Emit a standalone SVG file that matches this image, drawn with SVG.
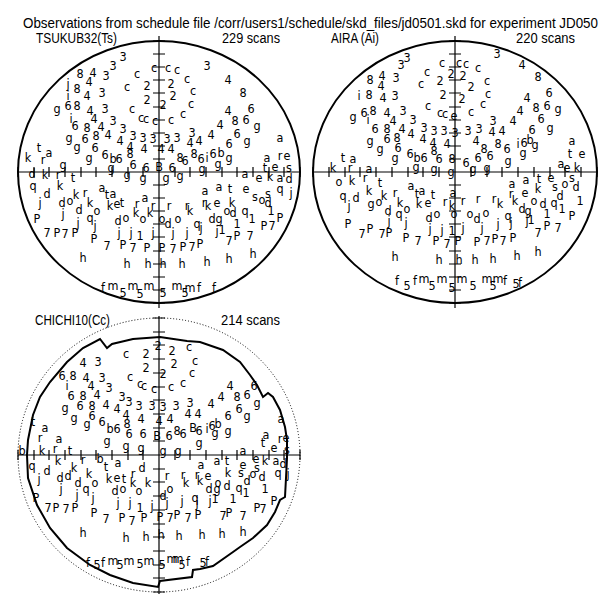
<svg xmlns="http://www.w3.org/2000/svg" width="601" height="601" viewBox="0 0 601 601">
<style>
.bg{fill:#fff}
.hz{fill:none;stroke:#000;stroke-width:2}
.dot{fill:none;stroke:#000;stroke-width:1;stroke-dasharray:1 2}
.ax{fill:none;stroke:#000;stroke-width:1.2}
.t{font-family:"Liberation Sans",Arial,sans-serif;font-size:14px;fill:#000}
.g text{font-family:"Liberation Sans Narrow","DejaVu Sans Condensed","Liberation Sans",sans-serif;font-size:12.5px;fill:#000;text-anchor:middle;dominant-baseline:central}
</style>
<rect class="bg" x="0" y="0" width="601" height="601"/>
<text class="t" x="23" y="28" textLength="575" lengthAdjust="spacingAndGlyphs">Observations from schedule file /corr/users1/schedule/skd_files/jd0501.skd for experiment JD050</text>

<g id="plot-tsukub32">
<text class="t" x="36" y="43" textLength="81" lengthAdjust="spacingAndGlyphs">TSUKUB32(Ts)</text>
<text class="t" x="222" y="43" textLength="58" lengthAdjust="spacingAndGlyphs">229 scans</text>
<ellipse class="hz" cx="159" cy="172" rx="141" ry="131"/>
<path class="ax" d="M159,36V308M18,172H300M153,159h12M153,146h12M153,133h12M153,120h12M153,107h12M153,93h12M153,80h12M153,67h12M153,54h12M153,41h12M153,185h12M153,198h12M153,211h12M153,224h12M153,237h12M153,251h12M153,264h12M153,277h12M153,290h12M153,303h12M143,167v10M128,167v10M112,167v10M96,167v10M81,167v10M65,167v10M49,167v10M34,167v10M18,167v10M175,167v10M190,167v10M206,167v10M222,167v10M237,167v10M253,167v10M269,167v10M284,167v10M300,167v10"/>
<g class="g">
<text x="123" y="56">3</text><text x="113" y="65">3</text><text x="106" y="75">3</text><text x="80" y="73">8</text><text x="93" y="72">4</text><text x="89" y="81">4</text><text x="68" y="83">j</text><text x="77" y="88">8</text><text x="87" y="95">4</text><text x="102" y="92">3</text><text x="68" y="95">i</text><text x="57" y="108">g</text><text x="68" y="105">6</text><text x="77" y="105">8</text><text x="90" y="110">4</text><text x="105" y="108">3</text><text x="94" y="118">4</text><text x="113" y="120">3</text><text x="71" y="118">i</text><text x="75" y="125">6</text><text x="87" y="127">8</text><text x="101" y="126">4</text><text x="123" y="128">3</text><text x="69" y="137">g</text><text x="85" y="138">6</text><text x="96" y="135">8</text><text x="108" y="134">4</text><text x="133" y="135">3</text><text x="143" y="137">3</text><text x="153" y="138">3</text><text x="167" y="138">3</text><text x="177" y="137">3</text><text x="192" y="132">3</text><text x="211" y="134">4</text><text x="120" y="140">4</text><text x="130" y="146">4</text><text x="144" y="148">4</text><text x="161" y="148">4</text><text x="171" y="148">4</text><text x="190" y="142">4</text><text x="199" y="140">4</text><text x="229" y="143">6</text><text x="247" y="140">g</text><text x="237" y="133">6</text><text x="77" y="146">g</text><text x="95" y="147">6</text><text x="89" y="157">g</text><text x="105" y="154">6</text><text x="113" y="158">b</text><text x="119" y="158">6</text><text x="130" y="153">8</text><text x="133" y="164">6</text><text x="180" y="157">8</text><text x="185" y="160">6</text><text x="194" y="153">8</text><text x="201" y="158">6</text><text x="207" y="157">i</text><text x="213" y="153">6</text><text x="221" y="152">b</text><text x="229" y="157">g</text><text x="267" y="157">a</text><text x="280" y="155">r</text><text x="287" y="155">e</text><text x="280" y="137">a</text><text x="28" y="157">k</text><text x="39" y="147">t</text><text x="49" y="152">a</text><text x="43" y="159">r</text><text x="63" y="164">g</text><text x="32" y="173">d</text><text x="45" y="174">k</text><text x="58" y="174">r</text><text x="73" y="177">t</text><text x="111" y="167">g</text><text x="127" y="174">g</text><text x="143" y="177">g</text><text x="146" y="167">6</text><text x="159" y="166">B</text><text x="172" y="167">6</text><text x="180" y="175">g</text><text x="166" y="177">g</text><text x="202" y="168">g</text><text x="218" y="163">g</text><text x="265" y="167">t</text><text x="275" y="166">e</text><text x="289" y="167">s</text><text x="245" y="173">a</text><text x="259" y="177">e</text><text x="270" y="176">k</text><text x="280" y="177">a</text><text x="289" y="178">d</text>
<text x="154" y="67">c</text><text x="168" y="67">c</text><text x="177" y="69">c</text><text x="207" y="65">3</text><text x="228" y="79">4</text><text x="243" y="92">8</text><text x="137" y="73">c</text><text x="127" y="86">c</text><text x="187" y="78">c</text><text x="147" y="85">2</text><text x="171" y="83">2</text><text x="147" y="99">2</text><text x="173" y="95">2</text><text x="193" y="90">c</text><text x="191" y="103">c</text><text x="163" y="104">2</text><text x="132" y="108">c</text><text x="183" y="113">c</text><text x="141" y="117">c</text><text x="146" y="118">c</text><text x="155" y="120">c</text><text x="171" y="119">c</text><text x="228" y="110">4</text><text x="251" y="108">6</text><text x="235" y="120">8</text><text x="246" y="119">6</text><text x="257" y="125">g</text><text x="220" y="124">4</text>
<text x="33" y="185">q</text><text x="47" y="193">d</text><text x="40" y="202">j</text><text x="60" y="185">k</text><text x="62" y="202">d</text><text x="70" y="200">o</text><text x="76" y="194">k</text><text x="85" y="192">r</text><text x="90" y="202">k</text><text x="102" y="187">a</text><text x="107" y="194">t</text><text x="113" y="193">a</text><text x="110" y="205">k</text><text x="117" y="203">e</text><text x="122" y="202">t</text><text x="145" y="197">a</text><text x="137" y="203">r</text><text x="136" y="212">k</text><text x="143" y="218">o</text><text x="150" y="212">k</text><text x="153" y="205">r</text><text x="169" y="205">r</text><text x="187" y="205">r</text><text x="190" y="210">k</text><text x="162" y="218">o</text><text x="168" y="223">d</text><text x="178" y="218">o</text><text x="79" y="209">d</text><text x="63" y="213">j</text><text x="97" y="210">o</text><text x="90" y="217">q</text><text x="78" y="222">j</text><text x="95" y="225">j</text><text x="118" y="220">d</text><text x="126" y="217">o</text>
<text x="37" y="218">P</text><text x="47" y="232">7</text><text x="57" y="232">P</text><text x="65" y="233">7</text><text x="75" y="232">P</text><text x="94" y="238">P</text><text x="107" y="245">7</text><text x="123" y="244">P</text><text x="133" y="247">7</text><text x="147" y="247">P</text><text x="162" y="247">P</text><text x="173" y="248">7</text><text x="183" y="246">P</text><text x="192" y="246">7</text><text x="200" y="243">P</text><text x="119" y="232">j</text><text x="131" y="232">j</text><text x="140" y="235">1</text><text x="153" y="232">j</text><text x="173" y="232">j</text><text x="187" y="232">j</text><text x="197" y="223">q</text><text x="201" y="227">j</text><text x="212" y="218">d</text><text x="219" y="218">g</text><text x="217" y="230">j</text><text x="222" y="229">1</text>
<text x="205" y="190">a</text><text x="219" y="186">a</text><text x="230" y="188">t</text><text x="246" y="188">e</text><text x="255" y="196">s</text><text x="262" y="199">o</text><text x="268" y="193">s</text><text x="268" y="202">d</text><text x="204" y="202">r</text><text x="208" y="205">k</text><text x="217" y="202">e</text><text x="232" y="202">k</text><text x="227" y="210">o</text><text x="233" y="212">d</text><text x="245" y="210">q</text><text x="252" y="218">1</text><text x="237" y="223">1</text><text x="271" y="210">1</text><text x="280" y="217">P</text><text x="264" y="225">P</text><text x="272" y="225">7</text><text x="280" y="188">q</text><text x="291" y="192">j</text><text x="229" y="240">7</text><text x="237" y="235">P</text><text x="250" y="235">7</text>
<text x="83" y="257">h</text><text x="127" y="263">h</text><text x="148" y="263">h</text><text x="163" y="263">h</text><text x="182" y="263">h</text><text x="207" y="261">h</text><text x="229" y="258">h</text><text x="253" y="253">h</text>
<text x="103" y="287">f</text><text x="113" y="285">m</text><text x="123" y="292">5</text><text x="133" y="285">m</text><text x="140" y="293">5</text><text x="149" y="285">m</text><text x="163" y="292">5</text><text x="177" y="285">m</text><text x="185" y="292">5</text><text x="190" y="287">m</text><text x="199" y="287">f</text><text x="214" y="287">f</text>
</g>
</g>

<g id="plot-aira">
<text class="t" x="331" y="43" textLength="48" lengthAdjust="spacingAndGlyphs">AIRA (Ai)</text>
<text class="t" x="516" y="43" textLength="59" lengthAdjust="spacingAndGlyphs">220 scans</text>
<ellipse class="hz" cx="455" cy="172" rx="142" ry="131"/>
<path class="ax" d="M455,36V308M313,172H597M449,159h12M449,146h12M449,133h12M449,120h12M449,107h12M449,93h12M449,80h12M449,67h12M449,54h12M449,41h12M449,185h12M449,198h12M449,211h12M449,224h12M449,237h12M449,251h12M449,264h12M449,277h12M449,290h12M449,303h12M439,167v10M423,167v10M408,167v10M392,167v10M376,167v10M360,167v10M345,167v10M329,167v10M313,167v10M471,167v10M487,167v10M502,167v10M518,167v10M534,167v10M550,167v10M565,167v10M581,167v10M597,167v10"/>
<g class="g">
<text x="407" y="57">3</text><text x="401" y="64">3</text><text x="396" y="77">3</text><text x="382" y="75">4</text><text x="370" y="79">8</text><text x="381" y="85">4</text><text x="427" y="71">c</text><text x="421" y="83">c</text><text x="442" y="62">c</text><text x="459" y="62">c</text><text x="466" y="63">c</text><text x="478" y="67">c</text><text x="487" y="80">c</text><text x="488" y="93">c</text><text x="483" y="103">c</text><text x="471" y="111">c</text><text x="428" y="105">c</text><text x="440" y="112">c</text><text x="445" y="113">c</text><text x="454" y="115">e</text><text x="440" y="80">2</text><text x="451" y="73">2</text><text x="463" y="75">2</text><text x="471" y="86">2</text><text x="443" y="94">2</text><text x="462" y="98">2</text>
<text x="497" y="53">3</text><text x="522" y="64">4</text><text x="538" y="76">8</text><text x="549" y="92">6</text><text x="527" y="97">4</text><text x="536" y="107">8</text><text x="547" y="105">6</text><text x="558" y="108">g</text><text x="520" y="110">4</text><text x="541" y="118">6</text><text x="550" y="127">g</text><text x="513" y="120">4</text><text x="493" y="120">3</text><text x="532" y="129">6</text><text x="492" y="131">4</text><text x="502" y="130">4</text><text x="518" y="143">i</text><text x="524" y="142">6</text><text x="530" y="139">b</text><text x="535" y="144">g</text><text x="523" y="152">g</text><text x="507" y="148">6</text><text x="498" y="143">8</text><text x="484" y="148">8</text><text x="476" y="140">4</text><text x="490" y="155">6</text><text x="508" y="160">g</text>
<text x="468" y="130">3</text><text x="479" y="128">3</text><text x="455" y="132">3</text><text x="444" y="130">3</text><text x="434" y="130">3</text><text x="424" y="127">3</text><text x="447" y="143">4</text><text x="433" y="142">4</text><text x="423" y="138">4</text><text x="411" y="133">4</text><text x="402" y="128">4</text><text x="413" y="119">3</text><text x="403" y="110">3</text><text x="393" y="120">4</text><text x="387" y="112">4</text><text x="395" y="95">3</text><text x="383" y="97">4</text><text x="369" y="94">8</text><text x="359" y="95">i</text><text x="353" y="116">g</text><text x="364" y="112">6</text><text x="373" y="110">8</text><text x="368" y="119">i</text><text x="375" y="128">6</text><text x="387" y="128">8</text><text x="370" y="140">g</text><text x="387" y="138">6</text><text x="397" y="137">8</text><text x="380" y="148">g</text><text x="398" y="147">6</text><text x="395" y="157">g</text><text x="410" y="153">6</text><text x="417" y="157">b</text><text x="424" y="157">6</text><text x="434" y="150">8</text><text x="439" y="158">6</text><text x="452" y="158">8</text><text x="466" y="162">6</text><text x="478" y="157">6</text>
<text x="572" y="140">a</text><text x="570" y="153">t</text><text x="582" y="153">e</text><text x="561" y="163">a</text><text x="567" y="167">e</text><text x="577" y="167">k</text><text x="333" y="167">k</text><text x="343" y="157">t</text><text x="353" y="158">a</text><text x="350" y="167">r</text><text x="369" y="168">a</text><text x="416" y="166">g</text><text x="434" y="168">g</text><text x="451" y="171">g</text><text x="473" y="168">g</text><text x="487" y="167">g</text><text x="339" y="181">o</text><text x="352" y="180">k</text><text x="365" y="177">r</text><text x="380" y="182">t</text><text x="512" y="183">a</text><text x="526" y="179">a</text><text x="539" y="178">t</text><text x="551" y="177">e</text><text x="572" y="177">s</text>
<text x="369" y="190">k</text><text x="343" y="195">q</text><text x="356" y="197">d</text><text x="349" y="205">j</text><text x="371" y="203">g</text><text x="379" y="201">o</text><text x="384" y="195">k</text><text x="395" y="192">r</text><text x="400" y="202">k</text><text x="411" y="185">a</text><text x="417" y="193">t</text><text x="422" y="190">a</text><text x="419" y="203">k</text><text x="428" y="202">e</text><text x="433" y="194">t</text><text x="445" y="201">r</text><text x="453" y="192">a</text><text x="452" y="205">k</text><text x="463" y="200">r</text><text x="478" y="198">r</text><text x="494" y="198">r</text><text x="500" y="203">k</text><text x="454" y="213">o</text><text x="429" y="217">d</text><text x="437" y="213">o</text><text x="470" y="213">o</text><text x="477" y="218">d</text><text x="486" y="212">o</text><text x="388" y="210">d</text><text x="399" y="213">q</text><text x="407" y="208">o</text><text x="406" y="222">j</text><text x="389" y="220">j</text>
<text x="511" y="193">r</text><text x="515" y="200">k</text><text x="525" y="192">e</text><text x="538" y="188">k</text><text x="534" y="200">o</text><text x="543" y="203">d</text><text x="555" y="186">s</text><text x="565" y="183">o</text><text x="576" y="186">d</text><text x="560" y="195">d</text><text x="554" y="202">q</text><text x="562" y="208">1</text><text x="580" y="200">1</text><text x="508" y="215">q</text><text x="511" y="222">j</text><text x="498" y="223">j</text><text x="522" y="208">d</text><text x="528" y="210">g</text><text x="527" y="220">j</text><text x="531" y="219">1</text><text x="547" y="213">1</text><text x="572" y="215">P</text><text x="558" y="227">7</text><text x="547" y="225">P</text><text x="538" y="232">7</text>
<text x="430" y="228">j</text><text x="442" y="229">j</text><text x="452" y="230">1</text><text x="463" y="227">j</text><text x="482" y="227">j</text><text x="348" y="223">P</text><text x="362" y="233">7</text><text x="370" y="228">P</text><text x="382" y="233">7</text><text x="389" y="232">P</text><text x="406" y="237">P</text><text x="418" y="240">7</text><text x="436" y="240">P</text><text x="447" y="243">7</text><text x="458" y="240">P</text><text x="477" y="241">P</text><text x="487" y="240">7</text><text x="495" y="238">P</text><text x="503" y="240">7</text><text x="513" y="237">P</text>
<text x="395" y="256">h</text><text x="439" y="259">h</text><text x="459" y="259">h</text><text x="475" y="259">h</text><text x="493" y="258">h</text><text x="517" y="255">h</text><text x="538" y="251">h</text>
<text x="397" y="280">f</text><text x="407" y="285">5</text><text x="415" y="280">f</text><text x="424" y="278">m</text><text x="432" y="285">5</text><text x="442" y="278">m</text><text x="452" y="287">5</text><text x="462" y="278">m</text><text x="473" y="285">5</text><text x="487" y="278">m</text><text x="493" y="285">5</text><text x="498" y="278">m</text><text x="505" y="280">f</text><text x="516" y="283">5</text><text x="520" y="282">f</text>
</g>
</g>

<g id="plot-chichi10">
<text class="t" x="35" y="325" textLength="75" lengthAdjust="spacingAndGlyphs">CHICHI10(Cc)</text>
<text class="t" x="221" y="325" textLength="59" lengthAdjust="spacingAndGlyphs">214 scans</text>
<ellipse class="dot" cx="159" cy="455" rx="141" ry="137"/>
<path class="hz" d="M27,455L28,440L33,415L40,397L50,382L67,362L83,348L100,339L107,348L112,344L133,339L160,337L187,341L200,342L223,350L240,362L250,375L257,385L263,397L268,393L273,397L280,410L285,427L287,440L287,458L286,478L285,497L280,500L275,512L267,525L253,538L240,547L233,552L213,566L200,569L193,570L192,577L160,581L158,587L133,583L110,575L90,565L67,548L50,528L37,505L28,478Z"/>
<path class="ax" d="M159,316V594M18,455H300M153,441h12M153,428h12M153,414h12M153,400h12M153,387h12M153,373h12M153,359h12M153,345h12M153,332h12M153,318h12M153,469h12M153,482h12M153,496h12M153,510h12M153,524h12M153,537h12M153,551h12M153,565h12M153,578h12M153,592h12M143,450v10M128,450v10M112,450v10M96,450v10M81,450v10M65,450v10M49,450v10M34,450v10M18,450v10M175,450v10M190,450v10M206,450v10M222,450v10M237,450v10M253,450v10M269,450v10M284,450v10M300,450v10"/>
<g class="g">
<text x="158" y="345">2</text><text x="172" y="350">2</text><text x="189" y="346">c</text><text x="126" y="353">c</text><text x="146" y="353">2</text><text x="146" y="367">2</text><text x="174" y="363">2</text><text x="163" y="373">2</text><text x="195" y="360">c</text><text x="192" y="372">c</text><text x="183" y="382">c</text><text x="171" y="386">c</text><text x="130" y="376">c</text><text x="140" y="383">c</text><text x="144" y="385">c</text><text x="154" y="388">c</text>
<text x="83" y="362">4</text><text x="98" y="361">3</text><text x="62" y="375">6</text><text x="73" y="375">8</text><text x="86" y="377">4</text><text x="102" y="377">3</text><text x="91" y="385">4</text><text x="109" y="387">3</text><text x="67" y="385">i</text><text x="71" y="395">6</text><text x="83" y="395">8</text><text x="97" y="394">4</text><text x="122" y="396">3</text><text x="129" y="401">3</text><text x="139" y="405">3</text><text x="152" y="405">3</text><text x="163" y="406">3</text><text x="176" y="405">3</text><text x="190" y="402">3</text><text x="211" y="403">4</text><text x="106" y="404">4</text><text x="117" y="408">4</text><text x="126" y="414">4</text><text x="141" y="418">4</text><text x="159" y="420">4</text><text x="170" y="418">4</text><text x="188" y="413">4</text><text x="198" y="413">4</text>
<text x="65" y="407">g</text><text x="80" y="405">6</text><text x="92" y="405">8</text><text x="92" y="415">6</text><text x="74" y="417">g</text><text x="87" y="423">g</text><text x="102" y="421">6</text><text x="110" y="428">b</text><text x="117" y="428">6</text><text x="127" y="423">8</text><text x="129" y="433">6</text><text x="107" y="440">g</text><text x="143" y="433">6</text><text x="157" y="435">B</text><text x="169" y="435">6</text><text x="177" y="430">8</text><text x="183" y="433">6</text><text x="199" y="442">g</text><text x="193" y="427">B</text><text x="199" y="430">6</text><text x="207" y="428">i</text><text x="212" y="425">6</text><text x="218" y="423">b</text><text x="215" y="432">g</text><text x="228" y="430">g</text><text x="228" y="415">6</text><text x="247" y="415">g</text><text x="239" y="408">6</text><text x="257" y="402">g</text><text x="247" y="394">6</text><text x="237" y="396">8</text><text x="230" y="385">4</text><text x="221" y="396">4</text><text x="254" y="385">6</text>
<text x="281" y="418">a</text><text x="266" y="434">a</text><text x="280" y="438">r</text><text x="286" y="437">e</text><text x="33" y="421">t</text><text x="45" y="427">a</text><text x="40" y="437">r</text><text x="59" y="438">a</text><text x="126" y="445">g</text><text x="141" y="447">g</text><text x="163" y="450">g</text><text x="178" y="450">g</text><text x="243" y="450">a</text><text x="22" y="450">b</text><text x="42" y="450">k</text><text x="55" y="448">r</text><text x="70" y="450">t</text><text x="263" y="442">t</text><text x="274" y="447">e</text><text x="287" y="449">s</text>
<text x="32" y="465">q</text><text x="47" y="470">d</text><text x="58" y="460">k</text><text x="83" y="459">r</text><text x="100" y="458">b</text><text x="106" y="466">t</text><text x="118" y="462">a</text><text x="74" y="467">k</text><text x="89" y="473">k</text><text x="39" y="478">j</text><text x="60" y="477">d</text><text x="68" y="475">d</text><text x="78" y="482">d</text><text x="61" y="488">j</text><text x="77" y="494">j</text><text x="86" y="488">q</text><text x="95" y="482">o</text><text x="93" y="497">j</text><text x="109" y="478">k</text><text x="117" y="477">e</text><text x="124" y="478">t</text><text x="133" y="473">r</text><text x="142" y="467">d</text><text x="133" y="482">k</text><text x="139" y="490">o</text><text x="148" y="482">k</text><text x="115" y="490">d</text><text x="123" y="488">o</text><text x="163" y="495">d</text><text x="170" y="488">o</text><text x="167" y="475">r</text><text x="183" y="474">r</text><text x="186" y="482">k</text><text x="197" y="474">r</text><text x="200" y="480">k</text><text x="208" y="475">e</text><text x="228" y="472">k</text><text x="218" y="482">o</text><text x="227" y="485">d</text><text x="239" y="487">q</text><text x="246" y="492">1</text><text x="233" y="498">1</text><text x="265" y="488">1</text><text x="247" y="480">d</text><text x="241" y="472">s</text><text x="253" y="473">o</text><text x="257" y="467">s</text><text x="262" y="476">d</text>
<text x="201" y="464">a</text><text x="217" y="460">a</text><text x="227" y="460">t</text><text x="243" y="464">e</text><text x="256" y="458">e</text><text x="265" y="460">k</text><text x="276" y="460">a</text><text x="283" y="463">d</text><text x="278" y="472">q</text><text x="288" y="473">j</text><text x="209" y="488">d</text><text x="217" y="488">g</text><text x="195" y="497">q</text><text x="197" y="502">j</text><text x="182" y="500">j</text><text x="167" y="502">j</text><text x="152" y="505">j</text><text x="140" y="507">1</text><text x="130" y="502">j</text><text x="118" y="502">j</text><text x="210" y="500">j</text><text x="215" y="498">1</text>
<text x="36" y="497">P</text><text x="48" y="507">7</text><text x="56" y="507">P</text><text x="66" y="508">7</text><text x="75" y="507">P</text><text x="94" y="512">P</text><text x="106" y="518">7</text><text x="122" y="517">P</text><text x="132" y="520">7</text><text x="144" y="517">P</text><text x="160" y="516">P</text><text x="170" y="517">7</text><text x="177" y="514">P</text><text x="188" y="517">7</text><text x="198" y="514">P</text><text x="223" y="515">7</text><text x="229" y="512">P</text><text x="243" y="515">7</text><text x="257" y="507">P</text><text x="263" y="508">7</text><text x="274" y="500">P</text>
<text x="83" y="532">h</text><text x="126" y="537">h</text><text x="146" y="536">h</text><text x="161" y="534">h</text><text x="179" y="535">h</text><text x="202" y="534">h</text><text x="222" y="533">h</text><text x="243" y="531">h</text>
<text x="88" y="562">f</text><text x="97" y="564">5</text><text x="103" y="562">f</text><text x="113" y="560">m</text><text x="120" y="564">5</text><text x="129" y="560">m</text><text x="140" y="563">5</text><text x="149" y="560">m</text><text x="162" y="564">5</text><text x="172" y="558">m</text><text x="178" y="558">m</text><text x="182" y="564">5</text><text x="188" y="561">f</text><text x="203" y="562">5</text><text x="207" y="561">f</text>
</g>
</g>
</svg>
